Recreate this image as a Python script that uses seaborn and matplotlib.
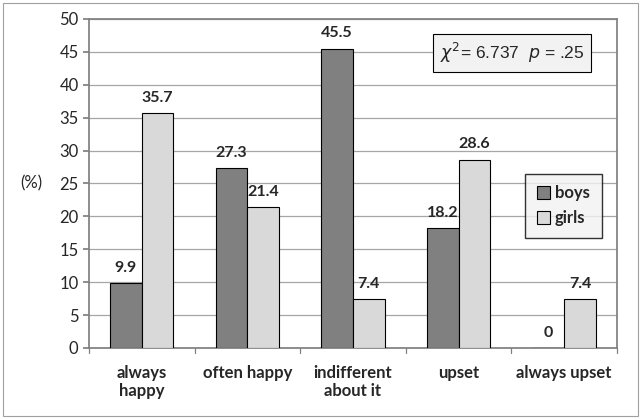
import pandas as pd
import seaborn as sns
import matplotlib.pyplot as plt
from matplotlib.patches import Rectangle

# --- data ---
categories = ['always\nhappy', 'often happy', 'indifferent\nabout it', 'upset', 'always upset']
boys = [9.9, 27.3, 45.5, 18.2, 0]
girls = [35.7, 21.4, 7.4, 28.6, 7.4]
groups = ['boys', 'girls']

df = pd.DataFrame({
    'answer': categories * 2,
    'pct': boys + girls,
    'sex': ['boys'] * len(categories) + ['girls'] * len(categories),
})

sns.set_theme(style='white')
plt.rcParams['font.family'] = ['Lato', 'DejaVu Sans']

fig = plt.figure(figsize=(6.42, 4.19), dpi=100)
ax = fig.add_axes([0.1386, 0.1695, 0.8224, 0.7852])

sns.barplot(data=df, x='answer', y='pct', hue='sex', hue_order=groups,
            palette=['#808080', '#d9d9d9'], width=0.6, edgecolor='black',
            linewidth=0.8, ax=ax, zorder=3)

for cont in ax.containers:
    ax.bar_label(cont, fmt='%g', padding=6, fontsize=11.5, fontweight='bold')

ax.set_ylim(0, 50)
ax.set_yticks(range(0, 51, 5))
ax.yaxis.grid(True, color='#a6a6a6', linewidth=0.9, zorder=0)
ax.set_xlim(-0.5, 4.5)
ax.set_xlabel('')
ax.set_ylabel('(%)', rotation=0, fontsize=12, labelpad=20, va='center')
ax.tick_params(axis='y', labelsize=12, length=4, direction='out', left=True, color='#808080')
ax.tick_params(axis='x', labelsize=12, length=0, pad=12)
for lab in ax.get_xticklabels():
    lab.set_fontweight('bold')
for x in [-0.5, 0.5, 1.5, 2.5, 3.5, 4.5]:
    ax.plot([x, x], [0, -0.8], color='#808080', lw=0.9, clip_on=False)

for side in ['top', 'right', 'left', 'bottom']:
    ax.spines[side].set_color('#808080')

leg = ax.legend(loc='upper left', bbox_to_anchor=(0.826, 0.53), frameon=True,
                fontsize=12, handlelength=0.8, handleheight=0.8, handletextpad=0.3,
                borderpad=0.7, borderaxespad=0, fancybox=False, labelspacing=0.55)
leg.get_frame().set_edgecolor('black')
leg.get_frame().set_facecolor('#f2f2f2')
for t in leg.get_texts():
    t.set_fontweight('bold')
leg._legend_box.align = 'center'
leg.get_frame().set_width(1)

ax.text(0.664, 0.897, r'$\chi^2$= 6.737  $p$ = .25', transform=ax.transAxes,
        fontsize=12.5, family='Liberation Sans', va='center', ha='left',
        bbox=dict(boxstyle='square,pad=0.4', facecolor='#f2f2f2', edgecolor='black', lw=0.8))

fig.patches.append(Rectangle((0.005, 0.008), 0.989, 0.985, transform=fig.transFigure,
                             fill=False, edgecolor='#a0a0a0', lw=0.8))

fig.savefig('out.png', dpi=100)
